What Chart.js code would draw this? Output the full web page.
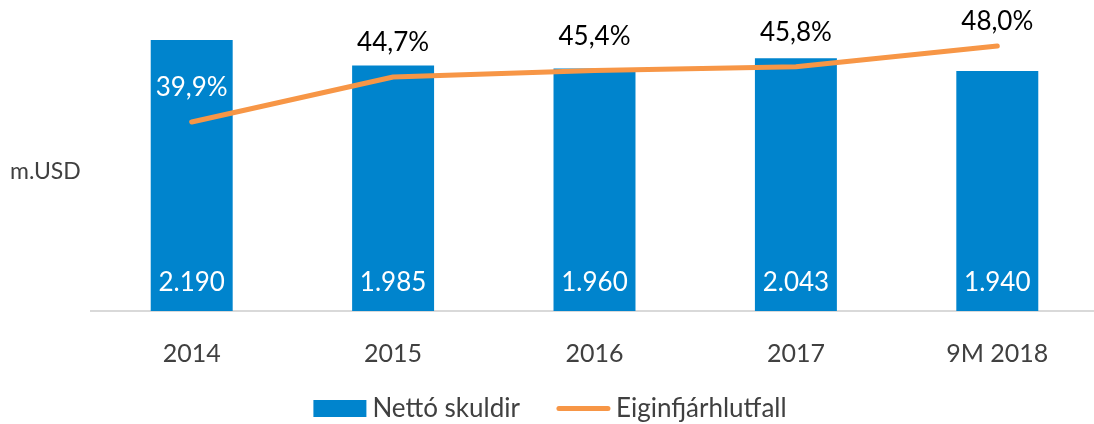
<!DOCTYPE html>
<html>
<head>
<meta charset="utf-8">
<script src="https://cdn.jsdelivr.net/npm/chart.js@4"></script>
<style>
  html, body { margin: 0; padding: 0; background: #fff; overflow: hidden; }
  #wrap { width: 1104px; height: 424px; }
</style>
</head>
<body>
<div id="wrap"><canvas id="myChart" width="1104" height="424"></canvas></div>
<script>
const categories = ['2014', '2015', '2016', '2017', '9M 2018'];
const nettoSkuldir = [2190, 1985, 1960, 2043, 1940];
const eiginfjarhlutfall = [39.9, 44.7, 45.4, 45.8, 48.0];
const seriesNames = ['Nettó skuldir', 'Eiginfjárhlutfall'];
const unitLabel = 'm.USD';

const blue = '#0084CD';
const orange = '#F79646';
const grayText = '#404040';
const fontFamily = 'Lato, "Open Sans", sans-serif';

const fmtThousands = v => String(v).replace(/\B(?=(\d{3})+(?!\d))/g, '.');
const fmtPct = v => v.toFixed(1).replace('.', ',') + '%';

// labels on bars + line, unit text and a hand drawn legend
const labelsPlugin = {
  id: 'labels',
  afterDatasetsDraw: (chart) => {
    const { ctx } = chart;
    const pts = chart.getDatasetMeta(0).data;   // line
    const bars = chart.getDatasetMeta(1).data;  // bars
    ctx.save();
    ctx.textAlign = 'center';
    ctx.textBaseline = 'middle';
    ctx.font = `26px ${fontFamily}`;

    bars.forEach((bar, i) => {
      ctx.fillStyle = '#fff';
      ctx.fillText(fmtThousands(nettoSkuldir[i]), bar.x, bar.base - 28);
    });

    pts.forEach((pt, i) => {
      const y = Math.max(pt.y - 34, 22);
      const bar = bars[i];
      const inside = y > bar.y && y < bar.base;
      ctx.fillStyle = inside ? '#fff' : '#000';
      ctx.fillText(fmtPct(eiginfjarhlutfall[i]), pt.x, y);
    });

    // unit
    ctx.textAlign = 'left';
    ctx.font = `23px ${fontFamily}`;
    ctx.fillStyle = grayText;
    ctx.fillText(unitLabel, 10, 172);

    // legend
    ctx.font = `26px ${fontFamily}`;
    const keyW = 53, gap = 6, itemGap = 37;
    const w0 = keyW + gap + ctx.measureText(seriesNames[0]).width;
    const w1 = keyW + gap + ctx.measureText(seriesNames[1]).width;
    let x = (1094 - (w0 + itemGap + w1)) / 2 + 3;
    const ly = 408.5;
    ctx.fillStyle = blue;
    ctx.fillRect(x, ly - 8.5, keyW, 17);
    ctx.fillStyle = grayText;
    ctx.fillText(seriesNames[0], x + keyW + gap, ly);
    x += w0 + itemGap;
    ctx.strokeStyle = orange;
    ctx.lineWidth = 5;
    ctx.lineCap = 'round';
    ctx.beginPath();
    ctx.moveTo(x + 2, ly);
    ctx.lineTo(x + keyW - 2, ly);
    ctx.stroke();
    ctx.fillText(seriesNames[1], x + keyW + gap, ly);
    ctx.restore();
  }
};

const ctx = document.getElementById('myChart').getContext('2d');
new Chart(ctx, {
  data: {
    labels: categories,
    datasets: [
      {
        type: 'line',
        label: seriesNames[1],
        data: eiginfjarhlutfall,
        yAxisID: 'y2',
        borderColor: orange,
        borderWidth: 5,
        borderCapStyle: 'round',
        borderJoinStyle: 'round',
        pointRadius: 0,
        tension: 0,
        order: 0,
      },
      {
        type: 'bar',
        label: seriesNames[0],
        data: nettoSkuldir,
        yAxisID: 'y',
        backgroundColor: blue,
        barPercentage: 0.407,
        categoryPercentage: 1,
        order: 1,
      },
    ]
  },
  options: {
    responsive: false,
    animation: false,
    layout: { padding: { left: 91, right: 6, top: 20, bottom: 0 } },
    scales: {
      x: {
        offset: true,
        grid: { display: false },
        border: { color: '#D9D9D9', width: 2 },
        ticks: { color: grayText, font: { family: fontFamily, size: 25 }, padding: 20 },
        afterFit: (axis) => { axis.height = 113; },
      },
      y: { display: false, min: 0, max: 2352 },
      y2: { display: false, min: 19.76, max: 50.77 },
    },
    plugins: {
      legend: { display: false },
      tooltip: { enabled: false },
    }
  },
  plugins: [labelsPlugin]
});
</script>
</body>
</html>
